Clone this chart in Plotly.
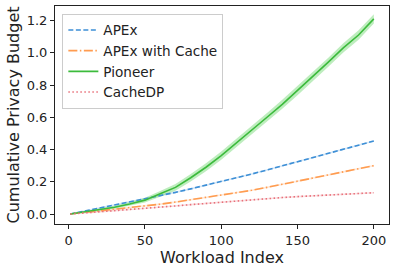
import plotly.graph_objects as go

workload = [1, 10, 20, 30, 40, 50, 60, 70, 80, 90, 100, 110, 120, 130, 140, 150, 160, 170, 180, 190, 200]
apex = [0, 0.017, 0.036, 0.055, 0.074, 0.093, 0.112, 0.134, 0.156, 0.178, 0.201, 0.224, 0.248,
        0.273, 0.298, 0.323, 0.349, 0.375, 0.401, 0.427, 0.453]
apex_cache = [0, 0.009, 0.019, 0.029, 0.039, 0.05, 0.061, 0.074, 0.088, 0.102, 0.116, 0.131, 0.147,
              0.165, 0.184, 0.203, 0.222, 0.241, 0.260, 0.280, 0.300]
pioneer = [0, 0.012, 0.026, 0.042, 0.062, 0.086, 0.125, 0.165, 0.225, 0.29, 0.362, 0.44, 0.52,
           0.60, 0.68, 0.765, 0.85, 0.94, 1.03, 1.11, 1.21]
pioneer_spread = [0, 0.004, 0.007, 0.009, 0.012, 0.015, 0.018, 0.021, 0.023, 0.025, 0.026, 0.026, 0.027,
                  0.027, 0.028, 0.028, 0.028, 0.028, 0.029, 0.029, 0.029]
cachedp = [0, 0.006, 0.013, 0.02, 0.027, 0.035, 0.043, 0.050, 0.058, 0.066, 0.074, 0.082, 0.089,
           0.096, 0.102, 0.108, 0.113, 0.118, 0.123, 0.128, 0.132]
small_spread = 0.005

series = [
    ("APEx", apex, "#3d8fd6", "5px,2.5px", [small_spread] * len(workload), "rgba(61,143,214,0.22)"),
    ("APEx with Cache", apex_cache, "#ff9c50", "9px,2.5px,1.5px,2.5px", [small_spread] * len(workload), "rgba(255,156,80,0.22)"),
    ("Pioneer", pioneer, "#3cbb3c", "solid", pioneer_spread, "rgba(110,215,110,0.45)"),
    ("CacheDP", cachedp, "#e8707a", "1.5px,2.5px", [small_spread] * len(workload), "rgba(232,112,122,0.22)"),
]

fig = go.Figure()
for name, vals, color, dash, spread, fill in series:
    upper = [v + s for v, s in zip(vals, spread)]
    lower = [max(v - s, 0) for v, s in zip(vals, spread)]
    fig.add_trace(go.Scatter(x=workload, y=upper, mode="lines", line=dict(width=0),
                             showlegend=False, hoverinfo="skip"))
    fig.add_trace(go.Scatter(x=workload, y=lower, mode="lines", line=dict(width=0),
                             fill="tonexty", fillcolor=fill, showlegend=False, hoverinfo="skip"))
for name, vals, color, dash, spread, fill in series:
    fig.add_trace(go.Scatter(x=workload, y=vals, mode="lines", name=name,
                             line=dict(color=color, dash=dash, width=1.6)))

fig.update_layout(
    width=396, height=270,
    margin=dict(l=55, r=7, t=6, b=46, autoexpand=False),
    paper_bgcolor="white", plot_bgcolor="white",
    font=dict(family="DejaVu Sans", size=13, color="#222"),
    legend=dict(x=0.022, y=0.965, xanchor="left", yanchor="top", traceorder="normal",
                bgcolor="white", bordercolor="#cccccc", borderwidth=1,
                font=dict(size=13.6), tracegroupgap=0, itemwidth=30),
)
fig.update_xaxes(range=[-8.95, 209.95], tickvals=[0, 50, 100, 150, 200], automargin=False,
                 showline=True, linecolor="#222", linewidth=1, mirror=True,
                 ticks="outside", ticklen=4, tickcolor="#222", showgrid=False, zeroline=False,
                 title=dict(text="Workload Index", standoff=0))
fig.update_yaxes(range=[-0.062, 1.29], tickvals=[0, 0.2, 0.4, 0.6, 0.8, 1.0, 1.2], tickformat=".1f",
                 automargin=False,
                 showline=True, linecolor="#222", linewidth=1, mirror=True,
                 ticks="outside", ticklen=4, tickcolor="#222", showgrid=False, zeroline=False,
                 title=dict(text="Cumulative Privacy Budget", standoff=3))

fig.write_html("out.html", config={"displayModeBar": False},
               post_script="document.body.style.margin='0';document.body.style.overflow='hidden';")
